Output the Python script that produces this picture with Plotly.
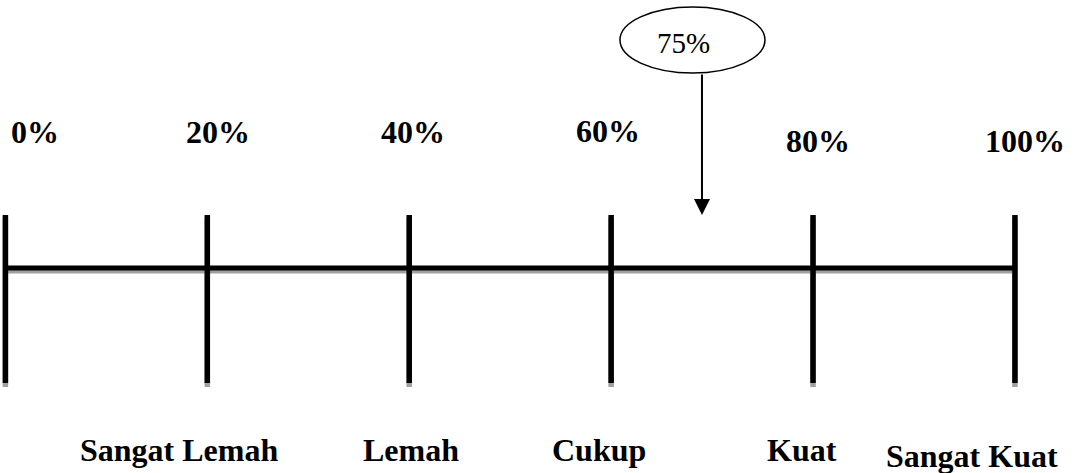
import plotly.graph_objects as go

# ---- data ----
tick_values = [0, 20, 40, 60, 80, 100]
tick_labels = ["0%", "20%", "40%", "60%", "80%", "100%"]
category_labels = ["Sangat Lemah", "Lemah", "Cukup", "Kuat", "Sangat Kuat"]
category_upper = [20, 40, 60, 80, 100]
score_label = "75%"
score_pos = 69  # where the arrow points on the scale

# ---- layout / style (pixel-ish offsets, y in px from top) ----
top_xshift = [30, 11, 4, -3, 5, 10]
top_y = [132, 132, 132, 131, 141, 141]
bot_xshift = [-28, 2, -12, -11, -43]
bot_y = [450, 450, 450, 450, 456]
line_y = 268
tick_top, tick_bot = 215, 383
shadow = 3
SERIF = "Liberation Serif, Times New Roman, serif"

fig = go.Figure()

# shadows (gray) first
xs, ys = [], []
for v in tick_values:
    xs += [v, v, None]
    ys += [tick_top + shadow, tick_bot + shadow + 1, None]
fig.add_trace(go.Scatter(x=xs, y=ys, mode="lines",
                         line=dict(color="#a0a0a0", width=5.5), hoverinfo="skip"))
fig.add_trace(go.Scatter(x=[tick_values[0], tick_values[-1]], y=[line_y + shadow, line_y + shadow],
                         mode="lines", line=dict(color="#a0a0a0", width=5), hoverinfo="skip"))

# main horizontal line
fig.add_trace(go.Scatter(x=[tick_values[0], tick_values[-1]], y=[line_y, line_y],
                         mode="lines", line=dict(color="black", width=5), hoverinfo="skip"))
# ticks
xs, ys = [], []
for v in tick_values:
    xs += [v, v, None]
    ys += [tick_top, tick_bot, None]
fig.add_trace(go.Scatter(x=xs, y=ys, mode="lines",
                         line=dict(color="black", width=5.5), hoverinfo="skip"))

annotations = []
for v, lab, dx, yy in zip(tick_values, tick_labels, top_xshift, top_y):
    annotations.append(dict(x=v, y=yy, xref="x", yref="y", text="<b>%s</b>" % lab,
                            showarrow=False, xshift=dx, xanchor="center", yanchor="middle",
                            font=dict(family=SERIF, size=32, color="black")))
for v, lab, dx, yy in zip(category_upper, category_labels, bot_xshift, bot_y):
    annotations.append(dict(x=v, y=yy, xref="x", yref="y", text="<b>%s</b>" % lab,
                            showarrow=False, xshift=dx, xanchor="center", yanchor="middle",
                            font=dict(family=SERIF, size=32, color="black")))

# arrow
annotations.append(dict(x=score_pos, y=215, ax=score_pos, ay=73, xref="x", yref="y",
                        axref="x", ayref="y", text="", showarrow=True,
                        arrowhead=2, arrowwidth=2, arrowsize=1.6, arrowcolor="black"))
# label in ellipse
annotations.append(dict(x=score_pos, y=43, xref="x", yref="y", text=score_label,
                        showarrow=False, xshift=-18, xanchor="center", yanchor="middle",
                        font=dict(family=SERIF, size=29, color="black")))

shapes = [dict(type="circle", xref="x", yref="y", xsizemode="pixel", xanchor=score_pos,
               x0=-82, x1=63, y0=7, y1=73, line=dict(color="black", width=1.5))]

fig.update_layout(
    width=1074, height=473, autosize=False,
    margin=dict(l=0, r=0, t=0, b=0),
    paper_bgcolor="white", plot_bgcolor="white",
    showlegend=False,
    xaxis=dict(range=[-0.535, 105.85], visible=False, fixedrange=True),
    yaxis=dict(range=[473, 0], visible=False, fixedrange=True),
    annotations=annotations, shapes=shapes,
)

fig.write_html("out.html", config={"displayModeBar": False},
               post_script="document.body.style.margin='0';document.body.style.padding='0';document.body.style.overflow='hidden';")
